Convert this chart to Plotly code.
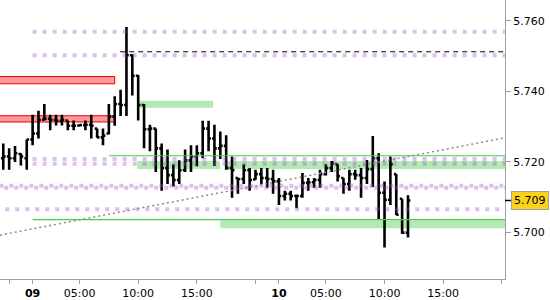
import plotly.graph_objects as go

# ---------------- data ----------------
bar_times = [
    "08 19:30", "08 20:00", "08 20:30", "08 21:00", "08 21:30",
    "09 01:00", "09 01:30", "09 02:00", "09 02:30", "09 03:00", "09 03:30", "09 04:00", "09 04:30",
    "09 05:00", "09 05:30", "09 06:00", "09 06:30", "09 07:00", "09 07:30", "09 08:00", "09 08:30",
    "09 09:00", "09 09:30", "09 10:00", "09 10:30", "09 11:00", "09 11:30", "09 12:00", "09 12:30",
    "09 13:00", "09 13:30", "09 14:00", "09 14:30", "09 15:00", "09 15:30", "09 16:00", "09 16:30",
    "09 17:00", "09 17:30", "09 18:00", "09 18:30", "09 19:00", "09 19:30", "09 20:00", "09 20:30",
    "09 21:00", "09 21:30",
    "10 01:00", "10 01:30", "10 02:00", "10 02:30", "10 03:00", "10 03:30", "10 04:00", "10 04:30",
    "10 05:00", "10 05:30", "10 06:00", "10 06:30", "10 07:00", "10 07:30", "10 08:00", "10 08:30",
    "10 09:00", "10 09:30", "10 10:00", "10 10:30", "10 11:00", "10 11:30", "10 12:00",
]
opens = [5.7210, 5.7215, 5.7210, 5.7222, 5.7210, 5.7263, 5.7280, 5.7319, 5.7322, 5.7319,
         5.7316, 5.7317, 5.7302, 5.7303, 5.7304, 5.7305, 5.7294, 5.7269, 5.7280, 5.7328,
         5.7364, 5.7361, 5.7502, 5.7444, 5.7361, 5.7292, 5.7294, 5.7238, 5.7182, 5.7162,
         5.7148, 5.7176, 5.7204, 5.7215, 5.7224, 5.7294, 5.7266, 5.7238, 5.7245, 5.7182,
         5.7154, 5.7151, 5.7176, 5.7150, 5.7165, 5.7154, 5.7151, 5.7145, 5.7103, 5.7109,
         5.7103, 5.7103, 5.7140, 5.7142, 5.7148, 5.7165, 5.7182, 5.7193, 5.7154, 5.7137,
         5.7165, 5.7162, 5.7154, 5.7179, 5.7210, 5.7112, 5.7092, 5.7165, 5.7095, 5.6999]
highs = [5.7252, 5.7238, 5.7245, 5.7224, 5.7263, 5.7333, 5.7345, 5.7364, 5.7333, 5.7333,
         5.7333, 5.7317, 5.7317, 5.7305, 5.7317, 5.7333, 5.7294, 5.7294, 5.7364, 5.7386,
         5.7404, 5.7582, 5.7505, 5.7446, 5.7364, 5.7305, 5.7294, 5.7252, 5.7235, 5.7193,
         5.7204, 5.7235, 5.7247, 5.7247, 5.7316, 5.7316, 5.7305, 5.7286, 5.7275, 5.7215,
         5.7154, 5.7193, 5.7182, 5.7177, 5.7182, 5.7182, 5.7177, 5.7154, 5.7118, 5.7118,
         5.7107, 5.7168, 5.7154, 5.7154, 5.7177, 5.7193, 5.7202, 5.7193, 5.7154, 5.7177,
         5.7177, 5.7182, 5.7205, 5.7273, 5.7224, 5.7144, 5.7215, 5.7165, 5.7095, 5.7105]
lows = [5.7177, 5.7177, 5.7199, 5.7189, 5.7177, 5.7247, 5.7266, 5.7317, 5.7289, 5.7303,
        5.7303, 5.7289, 5.7289, 5.7302, 5.7289, 5.7266, 5.7268, 5.7247, 5.7278, 5.7302,
        5.7330, 5.7330, 5.7388, 5.7317, 5.7238, 5.7230, 5.7171, 5.7118, 5.7137, 5.7130,
        5.7137, 5.7171, 5.7171, 5.7187, 5.7210, 5.7230, 5.7188, 5.7208, 5.7177, 5.7098,
        5.7109, 5.7137, 5.7118, 5.7149, 5.7137, 5.7126, 5.7109, 5.7077, 5.7090, 5.7090,
        5.7068, 5.7098, 5.7118, 5.7126, 5.7126, 5.7161, 5.7171, 5.7144, 5.7109, 5.7118,
        5.7149, 5.7098, 5.7137, 5.7128, 5.7037, 5.6957, 5.7077, 5.7049, 5.6996, 5.6985]
closes = [5.7215, 5.7210, 5.7224, 5.7215, 5.7263, 5.7280, 5.7319, 5.7322, 5.7319, 5.7316,
          5.7319, 5.7302, 5.7302, 5.7304, 5.7305, 5.7302, 5.7269, 5.7274, 5.7328, 5.7364,
          5.7361, 5.7502, 5.7444, 5.7361, 5.7292, 5.7294, 5.7238, 5.7182, 5.7162, 5.7148,
          5.7176, 5.7204, 5.7215, 5.7224, 5.7294, 5.7266, 5.7238, 5.7245, 5.7182, 5.7176,
          5.7151, 5.7176, 5.7148, 5.7165, 5.7154, 5.7151, 5.7145, 5.7103, 5.7109, 5.7103,
          5.7103, 5.7140, 5.7142, 5.7148, 5.7165, 5.7182, 5.7196, 5.7159, 5.7137, 5.7165,
          5.7162, 5.7154, 5.7179, 5.7210, 5.7112, 5.7092, 5.7193, 5.7050, 5.6999, 5.7090]
last_price = 5.709

x_ticks = ["08 20:00", "09 00:00", "09 05:00", "09 10:00", "09 15:00", "09 20:00",
           "10 00:00", "10 05:00", "10 10:00", "10 15:00", "10 20:00"]
x_tick_labels = ["", "<b>09</b>", "05:00", "10:00", "15:00", "",
                 "<b>10</b>", "05:00", "10:00", "15:00", ""]
y_ticks = [5.700, 5.720, 5.740, 5.760]

# levels (price, start time)
purple_levels = [(5.7569, "09 00:00"), (5.7502, "09 00:00"), (5.7208, "09 00:00"),
                 (5.7194, "09 00:00"), (5.7132, "08 19:10"), (5.7126, "08 19:35"),
                 (5.7065, "08 19:40")]
red_zones = [(5.74419, 5.74211, "08 18:00", "09 08:00"),
             (5.73305, 5.73128, "08 18:00", "09 08:00")]
green_zones = [(5.7373, 5.7353, "09 10:05", "09 16:23"),
               (5.72022, 5.71797, "09 09:55", "09 16:59"),
               (5.72022, 5.71797, "09 17:35", "10 23:00"),
               (5.70338, 5.70113, "09 17:00", "10 23:00")]
green_lines = [(5.7217, "09 07:30"), (5.7036, "09 00:00")]
dashed_level = (5.7512, "09 08:28")
trend_start = 5.69917
trend_end = 5.72679


# ---------------- helpers ----------------
def to_h(label):
    """Trading-hours axis: session 01:00-22:00, 21 h per day, day 09 01:00 -> 0."""
    day, hm = label.split()
    hh, mm = hm.split(":")
    hour = int(hh) + int(mm) / 60.0
    return 21 * (int(day) - 9) + max(hour - 1.0, 0.0)


X_MIN, X_MAX = -2.78, 40.27
Y_MIN, Y_MAX = 5.68673, 5.76589

xs = [to_h(t) for t in bar_times]

fig = go.Figure()

fig.add_trace(go.Ohlc(
    x=xs, open=opens, high=highs, low=lows, close=closes,
    increasing=dict(line=dict(color="#000000", width=2.6)),
    decreasing=dict(line=dict(color="#000000", width=2.6)),
    tickwidth=0.4, showlegend=False, hoverinfo="skip",
))

shapes = []
for top, bot, a, b in red_zones:
    shapes.append(dict(type="rect", xref="x", yref="y", x0=to_h(a), x1=to_h(b), y0=bot, y1=top,
                       fillcolor="#ff9999", line=dict(color="#ee0000", width=1), layer="below"))
for top, bot, a, b in green_zones:
    shapes.append(dict(type="rect", xref="x", yref="y", x0=to_h(a), x1=min(to_h(b), X_MAX + 1),
                       y0=bot, y1=top, fillcolor="#b3e9b3", line=dict(width=0), layer="below"))
for lvl, a in green_lines:
    shapes.append(dict(type="line", xref="x", yref="y", x0=to_h(a), x1=X_MAX + 1, y0=lvl, y1=lvl,
                       line=dict(color="#44cc44", width=1.2), layer="above"))
# trend line
shapes.append(dict(type="line", xref="x", yref="y", x0=X_MIN, x1=X_MAX, y0=trend_start, y1=trend_end,
                   line=dict(color="#8a8a8a", width=1.5, dash="2px,3px"), layer="above"))
# purple dotted levels
for lvl, a in purple_levels:
    shapes.append(dict(type="line", xref="x", yref="y", x0=to_h(a), x1=X_MAX + 1, y0=lvl, y1=lvl,
                       line=dict(color="rgba(157,84,200,0.37)", width=4, dash="4px,6px"), layer="above"))
# black dashed
shapes.append(dict(type="line", xref="x", yref="y", x0=to_h(dashed_level[1]), x1=X_MAX + 1,
                   y0=dashed_level[0], y1=dashed_level[0],
                   line=dict(color="#000000", width=1, dash="5px,4px"), layer="above"))
# last price marker tick
shapes.append(dict(type="line", xref="paper", yref="y", x0=1.0, x1=1.0 + 6 / 505.0,
                   y0=last_price, y1=last_price, line=dict(color="#000000", width=1.5)))

fig.update_layout(
    width=550, height=300,
    margin=dict(l=0, r=45, t=0, b=18),
    paper_bgcolor="#ffffff", plot_bgcolor="#ffffff",
    shapes=shapes,
    showlegend=False,
    font=dict(family="DejaVu Sans", size=11, color="#000000"),
    xaxis=dict(
        range=[X_MIN, X_MAX], rangeslider=dict(visible=False),
        tickmode="array", tickvals=[to_h(t) for t in x_ticks], ticktext=x_tick_labels,
        ticks="outside", ticklen=4, tickcolor="#a0a0a0", tickwidth=1,
        showline=True, linecolor="#a0a0a0", linewidth=1, mirror=False,
        showgrid=False, zeroline=False, tickfont=dict(size=11),
    ),
    yaxis=dict(
        range=[Y_MIN, Y_MAX], side="right",
        tickmode="array", tickvals=y_ticks, ticktext=[f"{v:.3f}" for v in y_ticks],
        ticks="outside", ticklen=5, tickcolor="#a0a0a0", tickwidth=1,
        showline=True, linecolor="#a0a0a0", linewidth=1,
        showgrid=False, zeroline=False, tickfont=dict(size=11),
    ),
    annotations=[dict(
        xref="paper", yref="y", x=1.0, y=last_price, xanchor="left", yanchor="middle",
        xshift=6, text=f"{last_price:.3f}", showarrow=False,
        font=dict(family="DejaVu Sans", size=11, color="#000000"),
        bgcolor="#fbd11a", bordercolor="#a0a0a0", borderwidth=1, borderpad=2,
    )],
)

fig.write_html("out.html")
